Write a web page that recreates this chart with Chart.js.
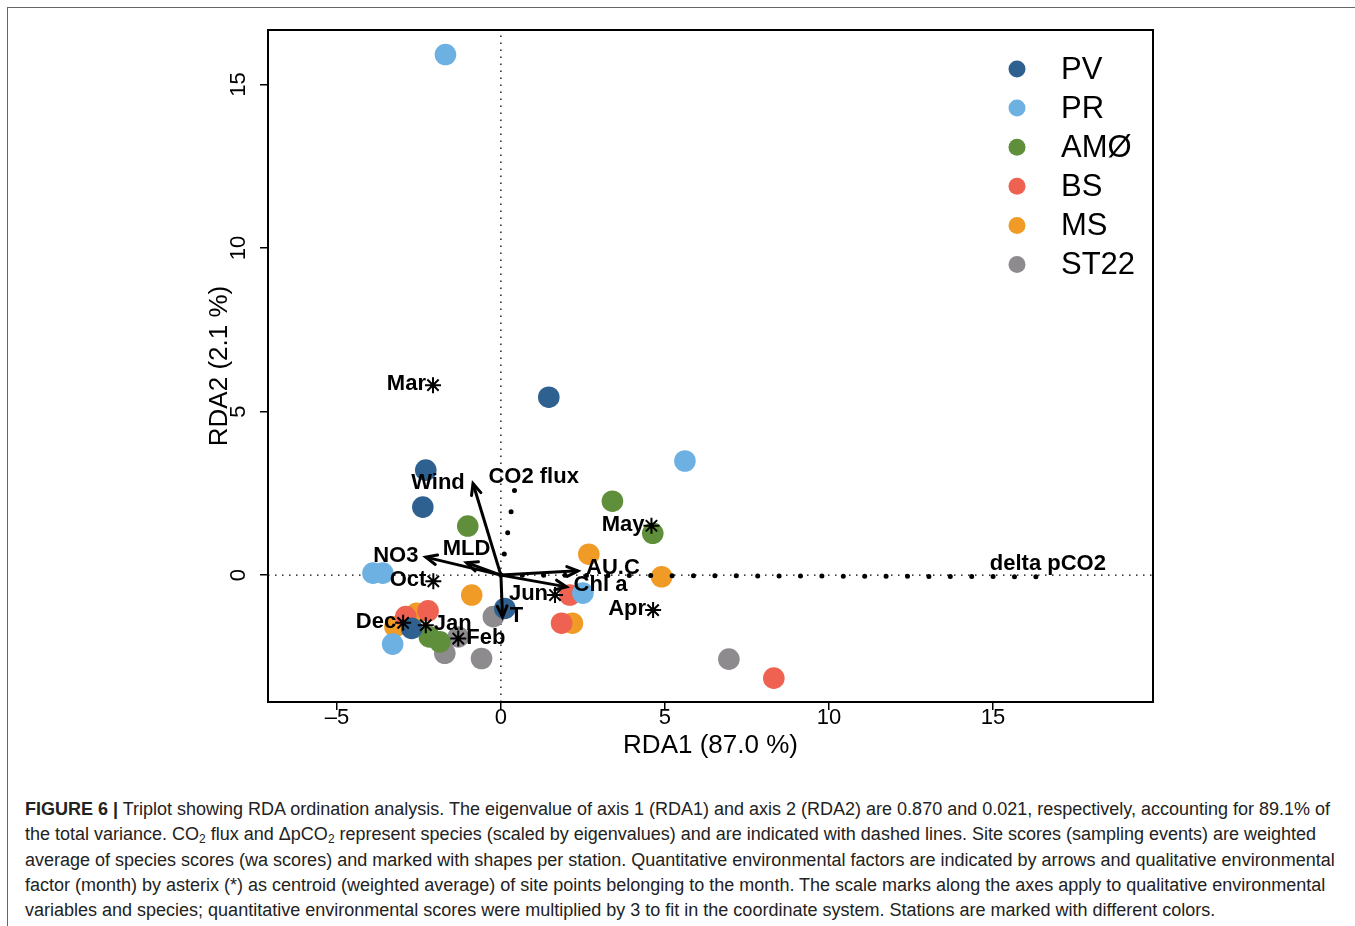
<!DOCTYPE html>
<html>
<head>
<meta charset="utf-8">
<script src="https://cdn.jsdelivr.net/npm/chart.js@4.4.1/dist/chart.umd.min.js"></script>
<style>
  html, body { margin: 0; padding: 0; background: #fff; }
  body { width: 1355px; height: 926px; position: relative; overflow: hidden; font-family: "Liberation Sans", Arial, sans-serif; }
  #frame { position: absolute; left: 7px; top: 7px; width: 1400px; height: 1000px; border-top: 1.5px solid #666; border-left: 1.5px solid #666; }
  #wrap { position: absolute; left: 0; top: 0; width: 1355px; height: 770px; }
  #caption { position: absolute; left: 25px; top: 797px; font-size: 18px; line-height: 25.3px; color: #222; white-space: nowrap; letter-spacing: 0; }
  #caption b { font-weight: bold; }
  #caption sub { font-size: 12px; line-height: 0; vertical-align: -3px; }
</style>
</head>
<body>
<div id="frame"></div>
<div id="wrap"><canvas id="chart" width="1355" height="770"></canvas></div>
<div id="caption">
  <div><b>FIGURE 6 |</b> Triplot showing RDA ordination analysis. The eigenvalue of axis 1 (RDA1) and axis 2 (RDA2) are 0.870 and 0.021, respectively, accounting for 89.1% of</div>
  <div>the total variance. CO<sub>2</sub> flux and ΔpCO<sub>2</sub> represent species (scaled by eigenvalues) and are indicated with dashed lines. Site scores (sampling events) are weighted</div>
  <div>average of species scores (wa scores) and marked with shapes per station. Quantitative environmental factors are indicated by arrows and qualitative environmental</div>
  <div>factor (month) by asterix (*) as centroid (weighted average) of site points belonging to the month. The scale marks along the axes apply to qualitative environmental</div>
  <div>variables and species; quantitative environmental scores were multiplied by 3 to fit in the coordinate system. Stations are marked with different colors.</div>
</div>
<script>
// eixos
const xMin = -7.1, xMax = 19.88;
const yMin = -3.88, yMax = 16.67;
const xTicks = [-5, 0, 5, 10, 15];
const yTicks = [0, 5, 10, 15];

// estações
const stations = ['PV', 'PR', 'AMØ', 'BS', 'MS', 'ST22'];
const stationColors = ['#2F6190', '#6CB1E1', '#5F8F3B', '#EF6150', '#EF9B26', '#8E8B8E'];

// site scores (RDA1 / RDA2) por estação
const pvX = [1.46, -2.29, -2.38, 0.12, -2.72];
const pvY = [5.44, 3.21, 2.08, -1.02, -1.63];
const prX = [-1.69, 5.61, -3.90, -3.60, 2.50, -3.30];
const prY = [15.92, 3.49, 0.06, 0.06, -0.55, -2.11];
const amoX = [3.40, 4.63, -1.01, -2.18, -1.86];
const amoY = [2.26, 1.28, 1.50, -1.89, -2.04];
const bsX = [8.32, 2.10, 1.85, -2.22, -2.90];
const bsY = [-3.15, -0.61, -1.47, -1.09, -1.27];
const msX = [2.68, 4.90, -0.89, 2.18, -2.57, -3.23];
const msY = [0.64, -0.05, -0.61, -1.47, -1.17, -1.58];
const st22X = [6.95, -0.23, -1.71, -0.59, -1.30];
const st22Y = [-2.57, -1.27, -2.39, -2.55, -1.89];

// variáveis ambientais (setas)
const envLabels = ['Wind', 'NO3', 'MLD', 'AU.C', 'Chl a', 'T'];
const envX = [-0.85, -2.29, -1.05, 2.35, 2.00, 0.05];
const envY = [2.80, 0.55, 0.38, 0.13, -0.36, -1.28];

// espécies (linhas pontilhadas)
const speciesLabels = ['CO2 flux', 'delta pCO2'];
const speciesX = [0.42, 16.43];
const speciesY = [2.62, -0.05];

// centróides dos meses
const monthLabels = ['Mar', 'May', 'Oct', 'Jun', 'Apr', 'Dec', 'Jan', 'Feb'];
const monthX = [-2.07, 4.59, -2.06, 1.65, 4.64, -2.98, -2.29, -1.30];
const monthY = [5.81, 1.51, -0.19, -0.61, -1.07, -1.46, -1.53, -1.94];

// posição dos rótulos (px, relativo ao ponto)
const envLabelOffset = [[-35, -1], [-30, -1], [0, -14], [35, -3], [34, -2], [14, -1]];
const speciesLabelOffset = [[19, -13], [8, -13]];
const monthLabelSide = ['left', 'left', 'left', 'left', 'left', 'left', 'right', 'right'];

const FONT = '"Liberation Sans", Arial, sans-serif';

function pairs(xs, ys) {
    return xs.map((v, i) => ({ x: v, y: ys[i] }));
}

const datasets = [];

// meses (asteriscos)
datasets.push({
    type: 'scatter',
    data: pairs(monthX, monthY),
    pointStyle: 'star',
    pointRadius: 8,
    borderColor: '#000',
    borderWidth: 2,
    order: 0
});

// setas
envLabels.forEach((lab, i) => {
    datasets.push({
        type: 'line',
        data: [{ x: 0, y: 0 }, { x: envX[i], y: envY[i] }],
        borderColor: '#000',
        borderWidth: 3,
        pointRadius: 0,
        order: 1
    });
});

// espécies
speciesLabels.forEach((lab, i) => {
    datasets.push({
        type: 'line',
        data: [{ x: 0, y: 0 }, { x: speciesX[i], y: speciesY[i] }],
        borderColor: '#000',
        borderWidth: 5,
        borderDash: [0, 21.4],
        borderCapStyle: 'round',
        pointRadius: 0,
        order: 2
    });
});

// pontos das estações
const stationX = [pvX, prX, amoX, bsX, msX, st22X];
const stationY = [pvY, prY, amoY, bsY, msY, st22Y];
stations.forEach((name, i) => {
    datasets.push({
        type: 'scatter',
        label: name,
        data: pairs(stationX[i], stationY[i]),
        backgroundColor: stationColors[i],
        borderWidth: 0,
        pointRadius: 10.8,
        order: 10 + i
    });
});

// linhas de referência em zero
datasets.push({
    type: 'line',
    data: [{ x: xMin, y: 0 }, { x: xMax, y: 0 }],
    borderColor: '#000', borderWidth: 1.3, borderDash: [1.5, 5.5], pointRadius: 0, order: 30
});
datasets.push({
    type: 'line',
    data: [{ x: 0, y: yMin }, { x: 0, y: yMax }],
    borderColor: '#000', borderWidth: 1.3, borderDash: [1.5, 5.5], pointRadius: 0, order: 30
});

const decorPlugin = {
    id: 'decor',
    afterDatasetsDraw(chart) {
        const { ctx, chartArea: a, scales: { x, y } } = chart;
        const ox = x.getPixelForValue(0), oy = y.getPixelForValue(0);
        ctx.save();

        // pontas das setas
        ctx.strokeStyle = '#000';
        ctx.lineWidth = 3;
        ctx.lineCap = 'round';
        envLabels.forEach((lab, i) => {
            const tx = x.getPixelForValue(envX[i]), ty = y.getPixelForValue(envY[i]);
            const ang = Math.atan2(ty - oy, tx - ox);
            const L = 12;
            ctx.beginPath();
            ctx.moveTo(tx - L * Math.cos(ang - 0.42), ty - L * Math.sin(ang - 0.42));
            ctx.lineTo(tx, ty);
            ctx.lineTo(tx - L * Math.cos(ang + 0.42), ty - L * Math.sin(ang + 0.42));
            ctx.stroke();
        });

        // rótulos
        ctx.fillStyle = '#000';
        ctx.font = 'bold 22px ' + FONT;
        ctx.textBaseline = 'middle';
        ctx.textAlign = 'center';
        envLabels.forEach((lab, i) => {
            const tx = x.getPixelForValue(envX[i]), ty = y.getPixelForValue(envY[i]);
            ctx.fillText(lab, tx + envLabelOffset[i][0], ty + envLabelOffset[i][1]);
        });
        speciesLabels.forEach((lab, i) => {
            const tx = x.getPixelForValue(speciesX[i]), ty = y.getPixelForValue(speciesY[i]);
            ctx.fillText(lab, tx + speciesLabelOffset[i][0], ty + speciesLabelOffset[i][1]);
        });
        monthLabels.forEach((lab, i) => {
            const tx = x.getPixelForValue(monthX[i]), ty = y.getPixelForValue(monthY[i]);
            if (monthLabelSide[i] === 'left') {
                ctx.textAlign = 'right';
                ctx.fillText(lab, tx - 7, ty - 1);
            } else {
                ctx.textAlign = 'left';
                ctx.fillText(lab, tx + 8, ty - 1);
            }
        });

        // caixa
        ctx.lineWidth = 2;
        ctx.lineCap = 'butt';
        ctx.strokeRect(a.left, a.top, a.width, a.height);

        // rótulos do eixo y (rodados, como no R)
        ctx.font = '22px ' + FONT;
        ctx.textAlign = 'center';
        ctx.textBaseline = 'middle';
        y.ticks.forEach(t => {
            const py = y.getPixelForValue(t.value);
            ctx.save();
            ctx.translate(a.left - 29, py);
            ctx.rotate(-Math.PI / 2);
            ctx.fillText(String(t.value), 0, 0);
            ctx.restore();
        });

        // legenda
        ctx.font = '31px ' + FONT;
        ctx.textAlign = 'left';
        stations.forEach((name, i) => {
            const ly = 69 + 39.1 * i;
            ctx.fillStyle = stationColors[i];
            ctx.beginPath();
            ctx.arc(1017, ly, 8.5, 0, Math.PI * 2);
            ctx.fill();
            ctx.fillStyle = '#000';
            ctx.fillText(name, 1061, ly + 1);
        });
        ctx.restore();
    }
};

new Chart(document.getElementById('chart'), {
    data: { datasets: datasets },
    options: {
        responsive: false,
        animation: false,
        layout: { padding: { left: 168, right: 202, top: 30, bottom: 0 } },
        plugins: {
            legend: { display: false },
            tooltip: { enabled: false }
        },
        scales: {
            x: {
                type: 'linear',
                min: xMin,
                max: xMax,
                afterBuildTicks: s => { s.ticks = xTicks.map(v => ({ value: v })); },
                afterFit: s => { s.height = 68; },
                grid: { drawOnChartArea: false, drawTicks: true, tickLength: 8, color: '#000', lineWidth: 1.5 },
                border: { display: false },
                ticks: {
                    color: '#000',
                    font: { family: FONT, size: 22 },
                    padding: -5,
                    maxRotation: 0,
                    autoSkip: false,
                    callback: v => v < 0 ? '\u2013' + Math.abs(v) : String(v)
                },
                title: { display: true, text: 'RDA1 (87.0 %)', color: '#000', font: { family: FONT, size: 26 }, padding: { top: 0, bottom: 9 } }
            },
            y: {
                type: 'linear',
                min: yMin,
                max: yMax,
                afterBuildTicks: s => { s.ticks = yTicks.map(v => ({ value: v })); },
                afterFit: s => { s.width = 100; },
                grid: { drawOnChartArea: false, drawTicks: true, tickLength: 8, color: '#000', lineWidth: 1.5 },
                border: { display: false },
                ticks: { display: false },
                title: { display: true, text: 'RDA2 (2.1 %)', color: '#000', font: { family: FONT, size: 26 }, padding: { top: 36, bottom: 0 } }
            }
        }
    },
    plugins: [decorPlugin]
});
</script>
</body>
</html>
